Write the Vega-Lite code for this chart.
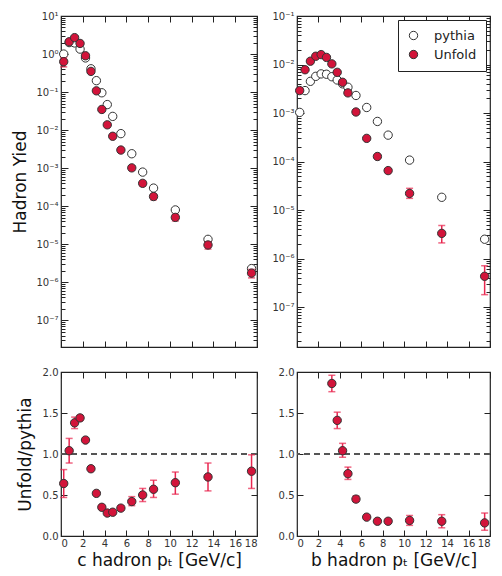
{
  "$schema": "https://vega.github.io/schema/vega-lite/v6.json",
  "padding": {"left": 11, "top": 10, "right": 5, "bottom": 5},
  "background": "white",
  "datasets": {
    "c": [
      {"pt": 0.25, "series": "pythia", "y": 1.0},
      {"pt": 0.75, "series": "pythia", "y": 2.0},
      {"pt": 1.25, "series": "pythia", "y": 1.96},
      {"pt": 1.75, "series": "pythia", "y": 1.35},
      {"pt": 2.25, "series": "pythia", "y": 0.79},
      {"pt": 2.75, "series": "pythia", "y": 0.41},
      {"pt": 3.25, "series": "pythia", "y": 0.2},
      {"pt": 3.75, "series": "pythia", "y": 0.096},
      {"pt": 4.25, "series": "pythia", "y": 0.047},
      {"pt": 4.75, "series": "pythia", "y": 0.023},
      {"pt": 5.5, "series": "pythia", "y": 0.0081},
      {"pt": 6.5, "series": "pythia", "y": 0.0024},
      {"pt": 7.5, "series": "pythia", "y": 0.00079},
      {"pt": 8.5, "series": "pythia", "y": 0.0003},
      {"pt": 10.5, "series": "pythia", "y": 0.00008},
      {"pt": 13.5, "series": "pythia", "y": 0.0000135},
      {"pt": 17.5, "series": "pythia", "y": 0.0000023},
      {"pt": 0.25, "series": "Unfold", "y": 0.63, "lo": 0.46, "hi": 0.8},
      {"pt": 0.75, "series": "Unfold", "y": 2.1, "lo": 1.8, "hi": 2.4},
      {"pt": 1.25, "series": "Unfold", "y": 2.7, "lo": 2.57, "hi": 2.84},
      {"pt": 1.75, "series": "Unfold", "y": 1.9, "lo": 1.86, "hi": 1.94},
      {"pt": 2.25, "series": "Unfold", "y": 0.9, "lo": 0.88, "hi": 0.92},
      {"pt": 2.75, "series": "Unfold", "y": 0.35, "lo": 0.343, "hi": 0.357},
      {"pt": 3.25, "series": "Unfold", "y": 0.108, "lo": 0.104, "hi": 0.112},
      {"pt": 3.75, "series": "Unfold", "y": 0.035, "lo": 0.0336, "hi": 0.0364},
      {"pt": 4.25, "series": "Unfold", "y": 0.0138, "lo": 0.0131, "hi": 0.0145},
      {"pt": 4.75, "series": "Unfold", "y": 0.0069, "lo": 0.0066, "hi": 0.0072},
      {"pt": 5.5, "series": "Unfold", "y": 0.003, "lo": 0.0028, "hi": 0.0032},
      {"pt": 6.5, "series": "Unfold", "y": 0.00102, "lo": 0.00088, "hi": 0.00116},
      {"pt": 7.5, "series": "Unfold", "y": 0.0004, "lo": 0.000336, "hi": 0.000464},
      {"pt": 8.5, "series": "Unfold", "y": 0.00018, "lo": 0.000148, "hi": 0.000212},
      {"pt": 10.5, "series": "Unfold", "y": 0.000051, "lo": 0.000041, "hi": 0.000061},
      {"pt": 13.5, "series": "Unfold", "y": 0.0000096, "lo": 0.0000075, "hi": 0.0000117},
      {"pt": 17.5, "series": "Unfold", "y": 0.00000175, "lo": 0.00000131, "hi": 0.00000219}
    ],
    "b": [
      {"pt": 0.25, "series": "pythia", "y": 0.00103},
      {"pt": 0.75, "series": "pythia", "y": 0.0029},
      {"pt": 1.25, "series": "pythia", "y": 0.0045},
      {"pt": 1.75, "series": "pythia", "y": 0.0057},
      {"pt": 2.25, "series": "pythia", "y": 0.0064},
      {"pt": 2.75, "series": "pythia", "y": 0.0063},
      {"pt": 3.25, "series": "pythia", "y": 0.0056},
      {"pt": 3.75, "series": "pythia", "y": 0.0048},
      {"pt": 4.25, "series": "pythia", "y": 0.004},
      {"pt": 4.75, "series": "pythia", "y": 0.0034},
      {"pt": 5.5, "series": "pythia", "y": 0.0023},
      {"pt": 6.5, "series": "pythia", "y": 0.0013},
      {"pt": 7.5, "series": "pythia", "y": 0.00067},
      {"pt": 8.5, "series": "pythia", "y": 0.00035},
      {"pt": 10.5, "series": "pythia", "y": 0.000107},
      {"pt": 13.5, "series": "pythia", "y": 0.0000183},
      {"pt": 17.5, "series": "pythia", "y": 0.0000025},
      {"pt": 0.25, "series": "Unfold", "y": 0.0029, "lo": 0.00275, "hi": 0.00305},
      {"pt": 0.75, "series": "Unfold", "y": 0.0078, "lo": 0.0074, "hi": 0.0082},
      {"pt": 1.25, "series": "Unfold", "y": 0.0117, "lo": 0.0111, "hi": 0.0123},
      {"pt": 1.75, "series": "Unfold", "y": 0.0148, "lo": 0.0141, "hi": 0.0155},
      {"pt": 2.25, "series": "Unfold", "y": 0.016, "lo": 0.0152, "hi": 0.0168},
      {"pt": 2.75, "series": "Unfold", "y": 0.014, "lo": 0.0133, "hi": 0.0147},
      {"pt": 3.25, "series": "Unfold", "y": 0.0103, "lo": 0.0098, "hi": 0.0108},
      {"pt": 3.75, "series": "Unfold", "y": 0.0069, "lo": 0.0064, "hi": 0.0074},
      {"pt": 4.25, "series": "Unfold", "y": 0.0043, "lo": 0.0039, "hi": 0.0047},
      {"pt": 4.75, "series": "Unfold", "y": 0.0026, "lo": 0.00234, "hi": 0.00286},
      {"pt": 5.5, "series": "Unfold", "y": 0.00105, "lo": 0.00096, "hi": 0.00114},
      {"pt": 6.5, "series": "Unfold", "y": 0.0003, "lo": 0.000282, "hi": 0.000318},
      {"pt": 7.5, "series": "Unfold", "y": 0.000127, "lo": 0.000117, "hi": 0.000137},
      {"pt": 8.5, "series": "Unfold", "y": 0.000065, "lo": 0.0000585, "hi": 0.0000715},
      {"pt": 10.5, "series": "Unfold", "y": 0.000022, "lo": 0.0000174, "hi": 0.000028},
      {"pt": 13.5, "series": "Unfold", "y": 0.0000033, "lo": 0.0000021, "hi": 0.0000048},
      {"pt": 17.5, "series": "Unfold", "y": 0.00000043, "lo": 0.00000018, "hi": 0.00000071}
    ],
    "cr": [
      {"pt": 0.25, "r": 0.64, "lo": 0.47, "hi": 0.81},
      {"pt": 0.75, "r": 1.04, "lo": 0.89, "hi": 1.19},
      {"pt": 1.25, "r": 1.38, "lo": 1.31, "hi": 1.45},
      {"pt": 1.75, "r": 1.44, "lo": 1.41, "hi": 1.47},
      {"pt": 2.25, "r": 1.17, "lo": 1.15, "hi": 1.19},
      {"pt": 2.75, "r": 0.82, "lo": 0.8, "hi": 0.84},
      {"pt": 3.25, "r": 0.52, "lo": 0.5, "hi": 0.54},
      {"pt": 3.75, "r": 0.35, "lo": 0.33, "hi": 0.37},
      {"pt": 4.25, "r": 0.28, "lo": 0.26, "hi": 0.3},
      {"pt": 4.75, "r": 0.29, "lo": 0.27, "hi": 0.31},
      {"pt": 5.5, "r": 0.34, "lo": 0.32, "hi": 0.37},
      {"pt": 6.5, "r": 0.42, "lo": 0.37, "hi": 0.48},
      {"pt": 7.5, "r": 0.5, "lo": 0.42, "hi": 0.58},
      {"pt": 8.5, "r": 0.57, "lo": 0.47, "hi": 0.68},
      {"pt": 10.5, "r": 0.65, "lo": 0.51, "hi": 0.78},
      {"pt": 13.5, "r": 0.72, "lo": 0.55, "hi": 0.89},
      {"pt": 17.5, "r": 0.79, "lo": 0.58, "hi": 0.99}
    ],
    "br": [
      {"pt": 3.25, "r": 1.86, "lo": 1.76, "hi": 1.96},
      {"pt": 3.75, "r": 1.41, "lo": 1.31, "hi": 1.51},
      {"pt": 4.25, "r": 1.04, "lo": 0.96, "hi": 1.13},
      {"pt": 4.75, "r": 0.76, "lo": 0.69, "hi": 0.84},
      {"pt": 5.5, "r": 0.45, "lo": 0.42, "hi": 0.49},
      {"pt": 6.5, "r": 0.23, "lo": 0.22, "hi": 0.25},
      {"pt": 7.5, "r": 0.18, "lo": 0.17, "hi": 0.2},
      {"pt": 8.5, "r": 0.18, "lo": 0.17, "hi": 0.2},
      {"pt": 10.5, "r": 0.19, "lo": 0.13, "hi": 0.25},
      {"pt": 13.5, "r": 0.18, "lo": 0.1, "hi": 0.26},
      {"pt": 17.5, "r": 0.16, "lo": 0.07, "hi": 0.28}
    ]
  },
  "columns": 2,
  "spacing": {"row": 25, "column": 40},
  "bounds": "flush",
  "resolve": {"scale": {"fill": "independent"}, "legend": {"fill": "independent"}},
  "concat": [
    {
      "width": 196, "height": 331,
      "data": {"name": "c"},
      "resolve": {"axis": {"x": "independent", "y": "independent"}},
      "layer": [
        {
          "transform": [{"filter": "datum.series === 'pythia'"}],
          "mark": {"type": "point", "filled": true, "opacity": 1, "size": 70, "stroke": "#333", "strokeWidth": 1},
          "encoding": {
            "x": {"field": "pt", "type": "quantitative", "scale": {"domain": [0, 18], "nice": false},
              "axis": {"orient": "bottom", "labels": false, "title": null, "values": [0,2,4,6,8,10,12,14,16,18], "tickSize": -6}},
            "y": {"field": "y", "type": "quantitative", "scale": {"type": "log", "domain": [2e-8, 10], "nice": false},
              "axis": {"orient": "left", "title": "Hadron Yied", "titlePadding": 6,
                "values": [2e-8,3e-8,4e-8,5e-8,6e-8,7e-8,8e-8,9e-8,1e-7,2e-7,3e-7,4e-7,5e-7,6e-7,7e-7,8e-7,9e-7,1e-6,2e-6,3e-6,4e-6,5e-6,6e-6,7e-6,8e-6,9e-6,1e-5,2e-5,3e-5,4e-5,5e-5,6e-5,7e-5,8e-5,9e-5,1e-4,2e-4,3e-4,4e-4,5e-4,6e-4,7e-4,8e-4,9e-4,1e-3,2e-3,3e-3,4e-3,5e-3,6e-3,7e-3,8e-3,9e-3,1e-2,2e-2,3e-2,4e-2,5e-2,6e-2,7e-2,8e-2,9e-2,1e-1,2e-1,3e-1,4e-1,5e-1,6e-1,7e-1,8e-1,9e-1,1,2,3,4,5,6,7,8,9,10],
                "labelExpr": "abs(log(datum.value)/LN10 - round(log(datum.value)/LN10)) < 0.01 ? '10' + replace(replace(replace(replace(replace(replace(replace(replace(replace('' + round(log(datum.value)/LN10), '-', '⁻'), '0', '⁰'), '1', '¹'), '2', '²'), '3', '³'), '4', '⁴'), '5', '⁵'), '6', '⁶'), '7', '⁷') : ''",
                "tickSize": {"condition": {"test": "abs(log(datum.value)/LN10 - round(log(datum.value)/LN10)) < 0.01", "value": -7}, "value": -4},
                "labelPadding": 10}},
            "fill": {"field": "series", "type": "nominal", "scale": {"domain": ["pythia", "Unfold"], "range": ["#ffffff", "#d2143a"]}, "legend": null}
          }
        },
        {
          "transform": [{"filter": "datum.series === 'Unfold'"}],
          "mark": {"type": "errorbar", "ticks": {"size": 7}, "color": "#e8264f", "thickness": 1.5},
          "encoding": {
            "x": {"field": "pt", "type": "quantitative", "axis": null},
            "y": {"field": "lo", "type": "quantitative", "axis": null},
            "y2": {"field": "hi"}
          }
        },
        {
          "transform": [{"filter": "datum.series === 'Unfold'"}],
          "mark": {"type": "point", "filled": true, "opacity": 1, "size": 70, "stroke": "#333", "strokeWidth": 1},
          "encoding": {
            "x": {"field": "pt", "type": "quantitative",
              "axis": {"orient": "top", "labels": false, "title": null, "values": [0,2,4,6,8,10,12,14,16,18], "tickSize": -6}},
            "y": {"field": "y", "type": "quantitative",
              "axis": {"orient": "right", "labels": false, "title": null,
                "values": [2e-8,3e-8,4e-8,5e-8,6e-8,7e-8,8e-8,9e-8,1e-7,2e-7,3e-7,4e-7,5e-7,6e-7,7e-7,8e-7,9e-7,1e-6,2e-6,3e-6,4e-6,5e-6,6e-6,7e-6,8e-6,9e-6,1e-5,2e-5,3e-5,4e-5,5e-5,6e-5,7e-5,8e-5,9e-5,1e-4,2e-4,3e-4,4e-4,5e-4,6e-4,7e-4,8e-4,9e-4,1e-3,2e-3,3e-3,4e-3,5e-3,6e-3,7e-3,8e-3,9e-3,1e-2,2e-2,3e-2,4e-2,5e-2,6e-2,7e-2,8e-2,9e-2,1e-1,2e-1,3e-1,4e-1,5e-1,6e-1,7e-1,8e-1,9e-1,1,2,3,4,5,6,7,8,9,10],
                "tickSize": {"condition": {"test": "abs(log(datum.value)/LN10 - round(log(datum.value)/LN10)) < 0.01", "value": -7}, "value": -4}}},
            "fill": {"field": "series", "type": "nominal", "scale": {"domain": ["pythia", "Unfold"], "range": ["#ffffff", "#d2143a"]}, "legend": null}
          }
        }
      ]
    },
    {
      "width": 193, "height": 331,
      "data": {"name": "b"},
      "resolve": {"axis": {"x": "independent", "y": "independent"}},
      "layer": [
        {
          "transform": [{"filter": "datum.series === 'pythia'"}],
          "mark": {"type": "point", "filled": true, "opacity": 1, "size": 70, "stroke": "#333", "strokeWidth": 1},
          "encoding": {
            "x": {"field": "pt", "type": "quantitative", "scale": {"domain": [0, 18], "nice": false},
              "axis": {"orient": "bottom", "labels": false, "title": null, "values": [0,2,4,6,8,10,12,14,16,18], "tickSize": -6}},
            "y": {"field": "y", "type": "quantitative", "scale": {"type": "log", "domain": [1.5e-8, 0.1], "nice": false},
              "axis": {"orient": "left", "title": null,
                "values": [2e-8,3e-8,4e-8,5e-8,6e-8,7e-8,8e-8,9e-8,1e-7,2e-7,3e-7,4e-7,5e-7,6e-7,7e-7,8e-7,9e-7,1e-6,2e-6,3e-6,4e-6,5e-6,6e-6,7e-6,8e-6,9e-6,1e-5,2e-5,3e-5,4e-5,5e-5,6e-5,7e-5,8e-5,9e-5,1e-4,2e-4,3e-4,4e-4,5e-4,6e-4,7e-4,8e-4,9e-4,1e-3,2e-3,3e-3,4e-3,5e-3,6e-3,7e-3,8e-3,9e-3,1e-2,2e-2,3e-2,4e-2,5e-2,6e-2,7e-2,8e-2,9e-2,1e-1],
                "labelExpr": "abs(log(datum.value)/LN10 - round(log(datum.value)/LN10)) < 0.01 ? '10' + replace(replace(replace(replace(replace(replace(replace(replace(replace('' + round(log(datum.value)/LN10), '-', '⁻'), '0', '⁰'), '1', '¹'), '2', '²'), '3', '³'), '4', '⁴'), '5', '⁵'), '6', '⁶'), '7', '⁷') : ''",
                "tickSize": {"condition": {"test": "abs(log(datum.value)/LN10 - round(log(datum.value)/LN10)) < 0.01", "value": -7}, "value": -4},
                "labelPadding": 10}},
            "fill": {"field": "series", "type": "nominal", "scale": {"domain": ["pythia", "Unfold"], "range": ["#ffffff", "#d2143a"]},
              "legend": {"title": null, "orient": "top-right", "offset": 4, "strokeColor": "#222", "fillColor": "white", "padding": 9, "labelFontSize": 13, "labelColor": "#222", "symbolSize": 70, "symbolStrokeColor": "#333", "symbolStrokeWidth": 1, "symbolOpacity": 1, "labelOffset": 14, "rowPadding": 5}}
          }
        },
        {
          "transform": [{"filter": "datum.series === 'Unfold'"}],
          "mark": {"type": "errorbar", "ticks": {"size": 7}, "color": "#e8264f", "thickness": 1.5},
          "encoding": {
            "x": {"field": "pt", "type": "quantitative", "axis": null},
            "y": {"field": "lo", "type": "quantitative", "axis": null},
            "y2": {"field": "hi"}
          }
        },
        {
          "transform": [{"filter": "datum.series === 'Unfold'"}],
          "mark": {"type": "point", "filled": true, "opacity": 1, "size": 70, "stroke": "#333", "strokeWidth": 1},
          "encoding": {
            "x": {"field": "pt", "type": "quantitative",
              "axis": {"orient": "top", "labels": false, "title": null, "values": [0,2,4,6,8,10,12,14,16,18], "tickSize": -6}},
            "y": {"field": "y", "type": "quantitative",
              "axis": {"orient": "right", "labels": false, "title": null,
                "values": [2e-8,3e-8,4e-8,5e-8,6e-8,7e-8,8e-8,9e-8,1e-7,2e-7,3e-7,4e-7,5e-7,6e-7,7e-7,8e-7,9e-7,1e-6,2e-6,3e-6,4e-6,5e-6,6e-6,7e-6,8e-6,9e-6,1e-5,2e-5,3e-5,4e-5,5e-5,6e-5,7e-5,8e-5,9e-5,1e-4,2e-4,3e-4,4e-4,5e-4,6e-4,7e-4,8e-4,9e-4,1e-3,2e-3,3e-3,4e-3,5e-3,6e-3,7e-3,8e-3,9e-3,1e-2,2e-2,3e-2,4e-2,5e-2,6e-2,7e-2,8e-2,9e-2,1e-1],
                "tickSize": {"condition": {"test": "abs(log(datum.value)/LN10 - round(log(datum.value)/LN10)) < 0.01", "value": -7}, "value": -4}}},
            "fill": {"field": "series", "type": "nominal", "scale": {"domain": ["pythia", "Unfold"], "range": ["#ffffff", "#d2143a"]},
              "legend": {"title": null, "orient": "top-right", "offset": 4, "strokeColor": "#222", "fillColor": "white", "padding": 9, "labelFontSize": 13, "labelColor": "#222", "symbolSize": 70, "symbolStrokeColor": "#333", "symbolStrokeWidth": 1, "symbolOpacity": 1, "labelOffset": 14, "rowPadding": 5}}
          }
        }
      ]
    },
    {
      "width": 196, "height": 164,
      "data": {"name": "cr"},
      "resolve": {"axis": {"x": "independent", "y": "independent"}},
      "layer": [
        {
          "mark": {"type": "rule", "strokeDash": [6, 4], "color": "#555", "strokeWidth": 1.5},
          "encoding": {"y": {"datum": 1, "type": "quantitative", "axis": null}}
        },
        {
          "mark": {"type": "errorbar", "ticks": {"size": 7}, "color": "#e8264f", "thickness": 1.5},
          "encoding": {
            "x": {"field": "pt", "type": "quantitative", "scale": {"domain": [0, 18], "nice": false},
              "axis": {"orient": "bottom", "title": "c hadron pₜ  [GeV/c]", "titlePadding": 4, "values": [0,2,4,6,8,10,12,14,16,18], "tickSize": -6, "labelPadding": 8}},
            "y": {"field": "lo", "type": "quantitative", "scale": {"domain": [0, 2], "nice": false},
              "axis": {"orient": "left", "title": "Unfold/pythia", "titlePadding": 8, "values": [0, 0.5, 1, 1.5, 2], "format": ".1f", "tickSize": -6, "labelPadding": 9}},
            "y2": {"field": "hi"}
          }
        },
        {
          "mark": {"type": "point", "filled": true, "opacity": 1, "size": 70, "stroke": "#333", "strokeWidth": 1, "fill": "#d2143a"},
          "encoding": {
            "x": {"field": "pt", "type": "quantitative",
              "axis": {"orient": "top", "labels": false, "title": null, "values": [0,2,4,6,8,10,12,14,16,18], "tickSize": -6}},
            "y": {"field": "r", "type": "quantitative",
              "axis": {"orient": "right", "labels": false, "title": null, "values": [0, 0.5, 1, 1.5, 2], "tickSize": -6}}
          }
        }
      ]
    },
    {
      "width": 193, "height": 164,
      "data": {"name": "br"},
      "resolve": {"axis": {"x": "independent", "y": "independent"}},
      "layer": [
        {
          "mark": {"type": "rule", "strokeDash": [6, 4], "color": "#555", "strokeWidth": 1.5},
          "encoding": {"y": {"datum": 1, "type": "quantitative", "axis": null}}
        },
        {
          "mark": {"type": "errorbar", "ticks": {"size": 7}, "color": "#e8264f", "thickness": 1.5},
          "encoding": {
            "x": {"field": "pt", "type": "quantitative", "scale": {"domain": [0, 18], "nice": false},
              "axis": {"orient": "bottom", "title": "b hadron pₜ  [GeV/c]", "titlePadding": 4, "values": [0,2,4,6,8,10,12,14,16,18], "tickSize": -6, "labelPadding": 8}},
            "y": {"field": "lo", "type": "quantitative", "scale": {"domain": [0, 2], "nice": false},
              "axis": {"orient": "left", "title": null, "values": [0, 0.5, 1, 1.5, 2], "format": ".1f", "tickSize": -6, "labelPadding": 9}},
            "y2": {"field": "hi"}
          }
        },
        {
          "mark": {"type": "point", "filled": true, "opacity": 1, "size": 70, "stroke": "#333", "strokeWidth": 1, "fill": "#d2143a"},
          "encoding": {
            "x": {"field": "pt", "type": "quantitative",
              "axis": {"orient": "top", "labels": false, "title": null, "values": [0,2,4,6,8,10,12,14,16,18], "tickSize": -6}},
            "y": {"field": "r", "type": "quantitative",
              "axis": {"orient": "right", "labels": false, "title": null, "values": [0, 0.5, 1, 1.5, 2], "tickSize": -6}}
          }
        }
      ]
    }
  ],
  "config": {
    "font": "DejaVu Sans",
    "view": {"stroke": "#222", "strokeWidth": 1.2},
    "axis": {"domain": false, "grid": false, "labelFontSize": 10, "labelColor": "#333", "tickColor": "#222", "tickWidth": 1, "titleFontSize": 17, "titleFontWeight": "normal", "titleColor": "#111", "labelFont": "DejaVu Sans", "titleFont": "DejaVu Sans"}
  }
}
